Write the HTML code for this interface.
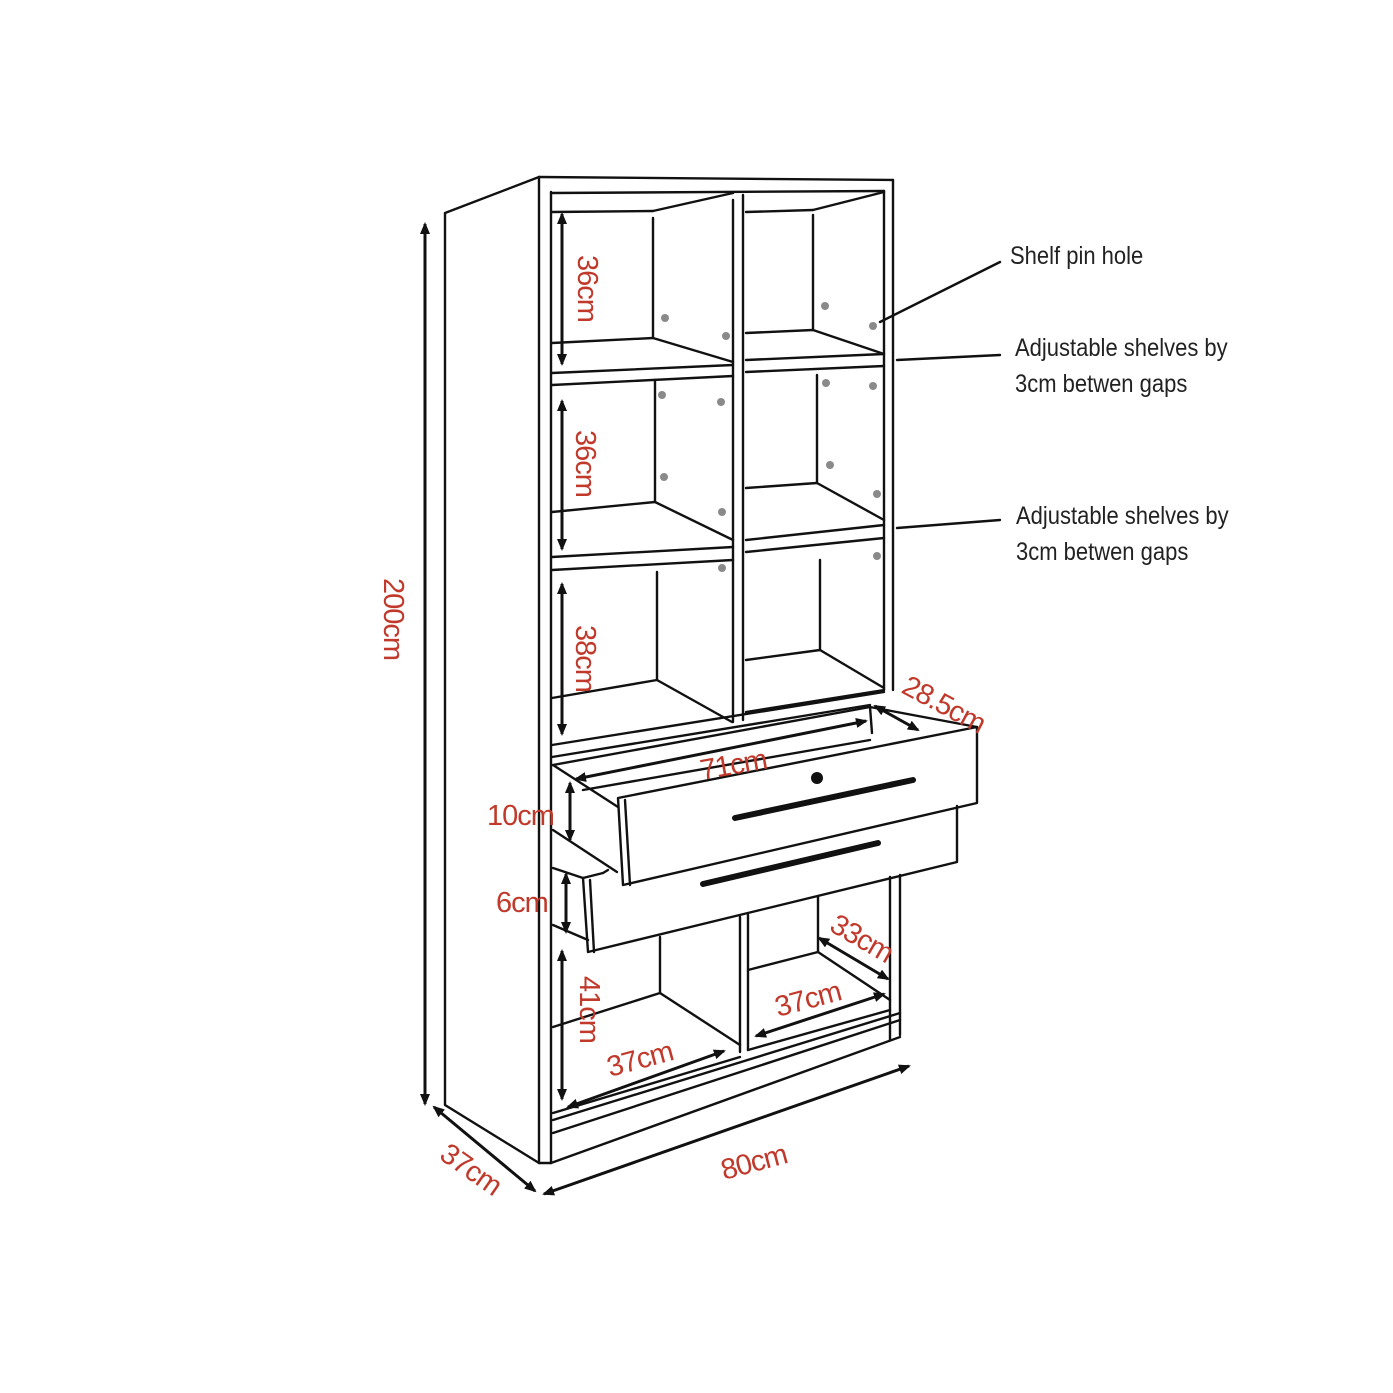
<!DOCTYPE html>
<html><head><meta charset="utf-8"><style>
html,body{margin:0;padding:0;background:#fff}
svg{display:block}
.l{stroke:#111;stroke-width:2.4;fill:none;stroke-linecap:round;stroke-linejoin:round}
.r{font-family:"Liberation Sans",sans-serif;font-size:29px;fill:#c0392b;letter-spacing:-1px}
.b{font-family:"Liberation Sans",sans-serif;font-size:25px;fill:#222}
.d{fill:#8a8a8a}
.a{stroke:#111;stroke-width:3;fill:none}
</style></head><body>
<svg width="1393" height="1393" viewBox="0 0 1393 1393" xmlns="http://www.w3.org/2000/svg">
<defs>
<marker id="ah" markerWidth="12" markerHeight="10" refX="10" refY="5" orient="auto-start-reverse" markerUnits="userSpaceOnUse"><path d="M0,0 L12,5 L0,10 z" fill="#111"/></marker>
</defs>
<g class="l">
<polyline points="539,177 445,213 445,1105 539,1163"/>
<line x1="539" y1="177" x2="893" y2="180"/>
<line x1="539" y1="177" x2="539" y2="1163"/>
<line x1="551" y1="192" x2="551" y2="1163"/>
<line x1="539" y1="1163" x2="551" y2="1163"/>
<line x1="551" y1="193" x2="884" y2="191"/>
<line x1="893" y1="180" x2="893" y2="690"/>
<line x1="884" y1="191" x2="884" y2="690"/>
<line x1="733" y1="200" x2="733" y2="722"/>
<line x1="743" y1="195" x2="743" y2="720"/>
<line x1="552" y1="212" x2="653" y2="211"/><line x1="653" y1="211" x2="733" y2="193"/>
<line x1="653" y1="218" x2="653" y2="338"/>
<line x1="552" y1="343" x2="653" y2="338"/><line x1="653" y1="338" x2="733" y2="362"/>
<line x1="552" y1="373" x2="733" y2="365"/><line x1="552" y1="385" x2="733" y2="376"/>
<line x1="746" y1="212" x2="813" y2="210"/><line x1="813" y1="210" x2="884" y2="192"/>
<line x1="813" y1="215" x2="813" y2="330"/>
<line x1="746" y1="333" x2="813" y2="330"/><line x1="813" y1="330" x2="884" y2="354"/>
<line x1="746" y1="360" x2="884" y2="354"/><line x1="746" y1="372" x2="884" y2="366"/>
<line x1="655" y1="380" x2="655" y2="502"/>
<line x1="552" y1="512" x2="655" y2="502"/><line x1="655" y1="502" x2="733" y2="540"/>
<line x1="552" y1="557" x2="733" y2="547"/><line x1="552" y1="570" x2="733" y2="560"/>
<line x1="817" y1="375" x2="817" y2="483"/>
<line x1="746" y1="488" x2="817" y2="483"/><line x1="817" y1="483" x2="884" y2="520"/>
<line x1="746" y1="540" x2="884" y2="525"/><line x1="746" y1="552" x2="884" y2="538"/>
<line x1="657" y1="572" x2="657" y2="680"/>
<line x1="552" y1="698" x2="657" y2="680"/><line x1="657" y1="680" x2="732" y2="722"/>
<line x1="820" y1="560" x2="820" y2="650"/>
<line x1="746" y1="660" x2="820" y2="650"/><line x1="820" y1="650" x2="884" y2="688"/>
<line x1="746" y1="712" x2="884" y2="690"/>
<line x1="552" y1="757" x2="870" y2="705"/><line x1="552" y1="745" x2="884" y2="692"/>
<line x1="553" y1="765" x2="870" y2="707"/>
<line x1="870" y1="707" x2="977" y2="727"/><line x1="870" y1="707" x2="872" y2="733"/>
<line x1="583" y1="790" x2="870" y2="740"/>
<line x1="553" y1="765" x2="618" y2="807"/>
<line x1="553" y1="830" x2="617" y2="872"/>
<polygon points="618,798 977,727 977,803 623,885"/>
<line x1="625" y1="800" x2="630" y2="885"/>
<line x1="553" y1="868" x2="583" y2="878"/>
<line x1="553" y1="925" x2="588" y2="940"/>
<polyline points="583,878 603,873 608,870"/>
<polyline points="957,806 957,862 588,952 583,878"/>
<line x1="590" y1="880" x2="594" y2="952"/>
<line x1="890" y1="877" x2="890" y2="1040"/><line x1="900" y1="875" x2="900" y2="1035"/>
<line x1="740" y1="917" x2="740" y2="1052"/><line x1="748" y1="915" x2="748" y2="1050"/>
<line x1="660" y1="937" x2="660" y2="993"/>
<line x1="553" y1="1027" x2="660" y2="993"/><line x1="660" y1="993" x2="740" y2="1045"/>
<line x1="818" y1="897" x2="818" y2="952"/>
<line x1="748" y1="970" x2="818" y2="952"/><line x1="818" y1="952" x2="890" y2="1000"/>
<line x1="553" y1="1113" x2="740" y2="1057"/>
<line x1="748" y1="1050" x2="890" y2="1010"/>
<line x1="553" y1="1120" x2="900" y2="1013"/>
<line x1="553" y1="1133" x2="900" y2="1020"/>
<line x1="551" y1="1163" x2="900" y2="1037"/>
<line x1="1000" y1="262" x2="880" y2="322"/>
<line x1="1000" y1="355" x2="897" y2="360"/>
<line x1="1000" y1="520" x2="897" y2="528"/>
</g>
<line x1="735" y1="818" x2="913" y2="780" stroke="#111" stroke-width="6" stroke-linecap="round"/>
<line x1="703" y1="884" x2="878" y2="843" stroke="#111" stroke-width="6" stroke-linecap="round"/>
<circle cx="817" cy="778" r="6" fill="#111"/>
<g class="d">
<circle cx="665" cy="318" r="4"/><circle cx="726" cy="336" r="4"/><circle cx="825" cy="306" r="4"/><circle cx="873" cy="326" r="4"/>
<circle cx="662" cy="395" r="4"/><circle cx="721" cy="402" r="4"/><circle cx="826" cy="383" r="4"/><circle cx="873" cy="386" r="4"/>
<circle cx="664" cy="477" r="4"/><circle cx="722" cy="512" r="4"/><circle cx="830" cy="465" r="4"/><circle cx="877" cy="494" r="4"/>
<circle cx="722" cy="568" r="4"/><circle cx="877" cy="556" r="4"/>
</g>
<g class="a">
<line x1="425" y1="224" x2="425" y2="1104" marker-start="url(#ah)" marker-end="url(#ah)"/>
<line x1="562" y1="214" x2="562" y2="364" marker-start="url(#ah)" marker-end="url(#ah)"/>
<line x1="562" y1="401" x2="562" y2="549" marker-start="url(#ah)" marker-end="url(#ah)"/>
<line x1="562" y1="584" x2="562" y2="734" marker-start="url(#ah)" marker-end="url(#ah)"/>
<line x1="570" y1="783" x2="570" y2="840" marker-start="url(#ah)" marker-end="url(#ah)"/>
<line x1="566" y1="874" x2="566" y2="932" marker-start="url(#ah)" marker-end="url(#ah)"/>
<line x1="562" y1="951" x2="562" y2="1099" marker-start="url(#ah)" marker-end="url(#ah)"/>
<line x1="576" y1="779" x2="866" y2="721" marker-start="url(#ah)" marker-end="url(#ah)"/>
<line x1="875" y1="706" x2="918" y2="730" marker-start="url(#ah)" marker-end="url(#ah)"/>
<line x1="568" y1="1107" x2="724" y2="1051" marker-start="url(#ah)" marker-end="url(#ah)"/>
<line x1="756" y1="1036" x2="884" y2="994" marker-start="url(#ah)" marker-end="url(#ah)"/>
<line x1="819" y1="938" x2="888" y2="979" marker-start="url(#ah)" marker-end="url(#ah)"/>
<line x1="544" y1="1194" x2="909" y2="1066" marker-start="url(#ah)" marker-end="url(#ah)"/>
<line x1="434" y1="1107" x2="535" y2="1191" marker-start="url(#ah)" marker-end="url(#ah)"/>
</g>
<g class="r">
<text transform="translate(384,578) rotate(90)">200cm</text>
<text transform="translate(578,255) rotate(90)">36cm</text>
<text transform="translate(576,430) rotate(90)">36cm</text>
<text transform="translate(576,625) rotate(90)">38cm</text>
<text transform="translate(580,976) rotate(90)">41cm</text>
<text x="487" y="825">10cm</text>
<text x="496" y="912">6cm</text>
<text transform="translate(702,780) rotate(-10)">71cm</text>
<text transform="translate(900,692) rotate(28)">28.5cm</text>
<text transform="translate(828,930) rotate(30)">33cm</text>
<text transform="translate(778,1017) rotate(-15)">37cm</text>
<text transform="translate(610,1077) rotate(-15)">37cm</text>
<text transform="translate(724,1180) rotate(-15)">80cm</text>
<text transform="translate(438,1158) rotate(35)">37cm</text>
</g>
<g class="b">
<text transform="translate(1010,264) scale(0.88,1)">Shelf pin hole</text>
<text transform="translate(1015,356) scale(0.88,1)">Adjustable shelves by</text>
<text transform="translate(1015,392) scale(0.88,1)">3cm betwen gaps</text>
<text transform="translate(1016,524) scale(0.88,1)">Adjustable shelves by</text>
<text transform="translate(1016,560) scale(0.88,1)">3cm betwen gaps</text>
</g>
</svg>
</body></html>
